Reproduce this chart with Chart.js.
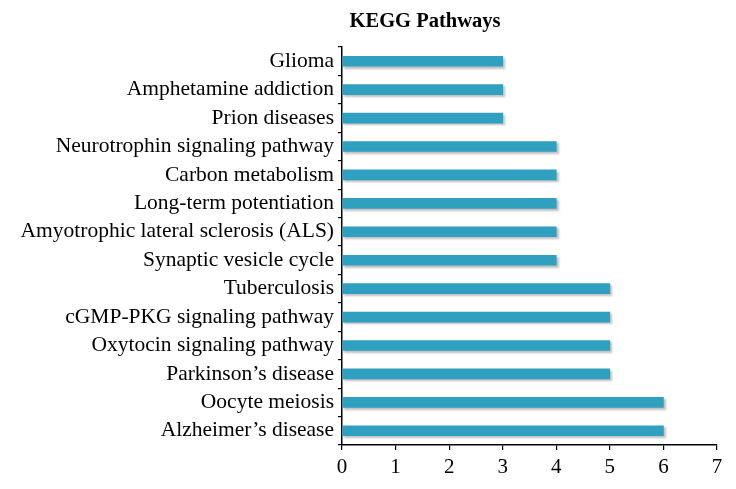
<!DOCTYPE html>
<html>
<head>
<meta charset="utf-8">
<script src="https://cdn.jsdelivr.net/npm/chart.js@4/dist/chart.umd.min.js"></script>
<style>
  html, body { margin: 0; padding: 0; background: #fff; }
  #wrap { width: 736px; height: 489px; position: relative; }
</style>
</head>
<body>
<div id="wrap"><canvas id="chart" width="736" height="489"></canvas></div>
<script>
const pathways = [
  'Glioma',
  'Amphetamine addiction',
  'Prion diseases',
  'Neurotrophin signaling pathway',
  'Carbon metabolism',
  'Long-term potentiation',
  'Amyotrophic lateral sclerosis (ALS)',
  'Synaptic vesicle cycle',
  'Tuberculosis',
  'cGMP-PKG signaling pathway',
  'Oxytocin signaling pathway',
  'Parkinson\u2019s disease',
  'Oocyte meiosis',
  'Alzheimer\u2019s disease',
];
const geneCounts = [3, 3, 3, 4, 4, 4, 4, 4, 5, 5, 5, 5, 6, 6];
const xTicks = [0, 1, 2, 3, 4, 5, 6, 7];

const serif = "'Liberation Serif', 'DejaVu Serif', serif";

// soft grey drop shadow under the bars
const barShadow = {
  id: 'barShadow',
  beforeDatasetsDraw(chart) {
    const c = chart.ctx;
    c.save();
    c.shadowColor = 'rgba(0,0,0,0.25)';
    c.shadowOffsetX = 2;
    c.shadowOffsetY = 2;
    c.shadowBlur = 2;
  },
  afterDatasetsDraw(chart) {
    chart.ctx.restore();
  },
};

// title sits left of the plot centre in the original
const titleText = {
  id: 'titleText',
  afterDraw(chart) {
    const c = chart.ctx;
    c.save();
    c.font = "bold 20.5px " + serif;
    c.fillStyle = '#000';
    c.textAlign = 'center';
    c.textBaseline = 'middle';
    c.fillText('KEGG Pathways', 425, 22);
    c.restore();
  },
};

new Chart(document.getElementById('chart'), {
  type: 'bar',
  data: {
    labels: pathways,
    datasets: [{
      data: geneCounts,
      backgroundColor: '#2fa0c0',
      barThickness: 10,
      borderWidth: 0,
    }],
  },
  options: {
    indexAxis: 'y',
    responsive: false,
    animation: false,
    layout: { padding: { top: 47, right: 19, left: 0, bottom: 0 } },
    plugins: {
      legend: { display: false },
      tooltip: { enabled: false },
    },
    scales: {
      x: {
        min: 0,
        max: 7,
        afterBuildTicks(scale) {
          scale.ticks = xTicks.map(v => ({ value: v }));
        },
        afterFit(scale) { scale.height = 44; },
        grid: { drawOnChartArea: false, tickLength: 5, color: '#000', lineWidth: 1.2 },
        border: { color: '#000', width: 1.5 },
        ticks: { color: '#000', font: { family: serif, size: 21 }, padding: 5 },
      },
      y: {
        afterFit(scale) { scale.width = 342; },
        grid: { drawOnChartArea: false, offset: true, tickLength: 4, color: '#000', lineWidth: 1.2 },
        border: { color: '#000', width: 1.5 },
        ticks: { color: '#000', font: { family: serif, size: 21.5 }, padding: 4, autoSkip: false },
      },
    },
  },
  plugins: [barShadow, titleText],
});
</script>
</body>
</html>
